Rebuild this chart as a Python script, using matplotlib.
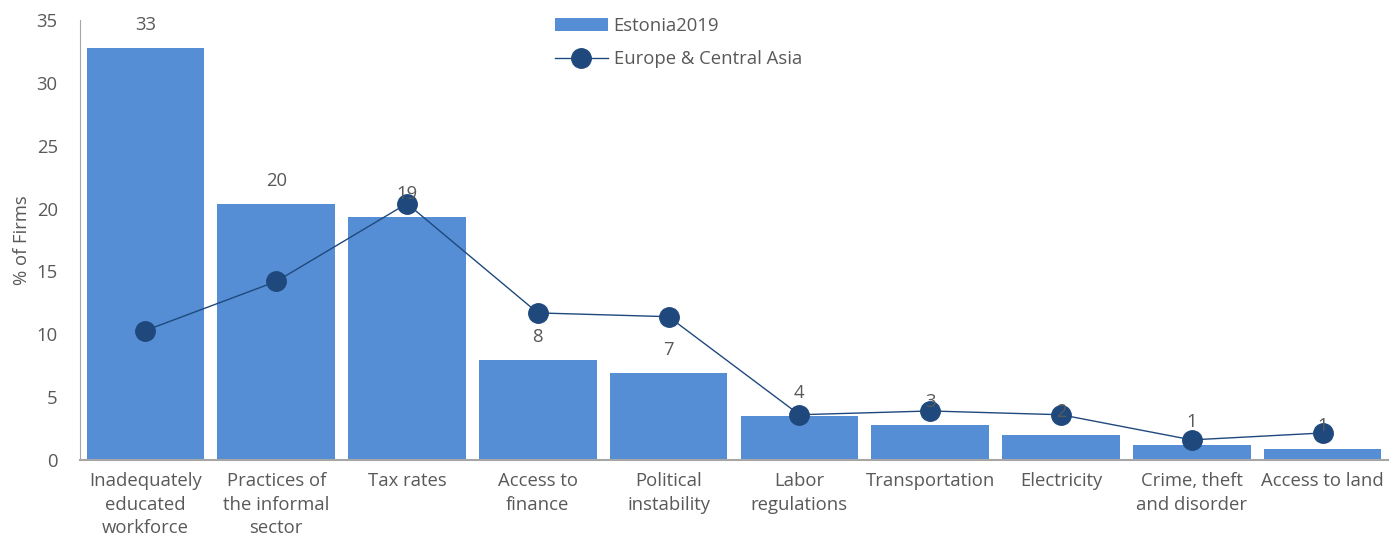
import matplotlib
matplotlib.use("Agg")
from matplotlib import pyplot as plt
import numpy as np

categories = ["Inadequately\neducated\nworkforce", "Practices of\nthe informal\nsector",
              "Tax rates", "Access to\nfinance", "Political\ninstability",
              "Labor\nregulations", "Transportation", "Electricity",
              "Crime, theft\nand disorder", "Access to land"]
estonia = [32.8, 20.4, 19.3, 7.96, 6.92, 3.5, 2.8, 2.0, 1.2, 0.9]
eca = [10.3, 14.2, 20.4, 11.7, 11.4, 3.6, 3.9, 3.6, 1.6, 2.15]

plt.rcParams['font.family'] = ['Open Sans', 'DejaVu Sans']
grey = '#595959'
fs = 13.3

fig = plt.figure(figsize=(13.95, 5.44), dpi=100)
ax = fig.add_axes([80 / 1395, 84 / 544, 1308 / 1395, 440 / 544])

x = np.arange(len(categories))
bars = ax.bar(x, estonia, width=0.9, color='#558ed5', label='Estonia2019', zorder=2)
line, = ax.plot(x, eca, color='#1f497d', lw=1, marker='o', markersize=14,
                label='Europe & Central Asia', zorder=3)

for xi, v in zip(x, estonia):
    ax.annotate('{:.0f}'.format(v), (xi, v), xytext=(0, 10), textcoords='offset points',
                ha='center', va='bottom', fontsize=fs, color=grey, zorder=4)

ax.set_xlim(-0.5, len(categories) - 0.5)
ax.set_ylim(0, 35)
ax.set_yticks(range(0, 36, 5))
ax.set_xticks(x)
ax.set_xticklabels(categories, fontsize=fs, color=grey, linespacing=1.38)
ax.tick_params(axis='both', length=0, labelsize=fs, colors=grey)
ax.tick_params(axis='x', pad=9)
ax.tick_params(axis='y', pad=16)
ax.set_ylabel('% of Firms', fontsize=fs, color=grey, labelpad=4)

for s in ['top', 'right']:
    ax.spines[s].set_visible(False)
ax.spines['left'].set_color('#a6a6a6')
ax.spines['bottom'].set_color('#a6a6a6')
ax.spines['bottom'].set_linewidth(1.5)

leg = fig.legend([bars, line], ['Estonia2019', 'Europe & Central Asia'],
                 loc='upper left', bbox_to_anchor=(538 / 1395, 1.0), frameon=False,
                 fontsize=fs, handlelength=2.9, handletextpad=0.3, labelspacing=0.85)
for t in leg.get_texts():
    t.set_color(grey)

fig.savefig('out.png', dpi=100)
